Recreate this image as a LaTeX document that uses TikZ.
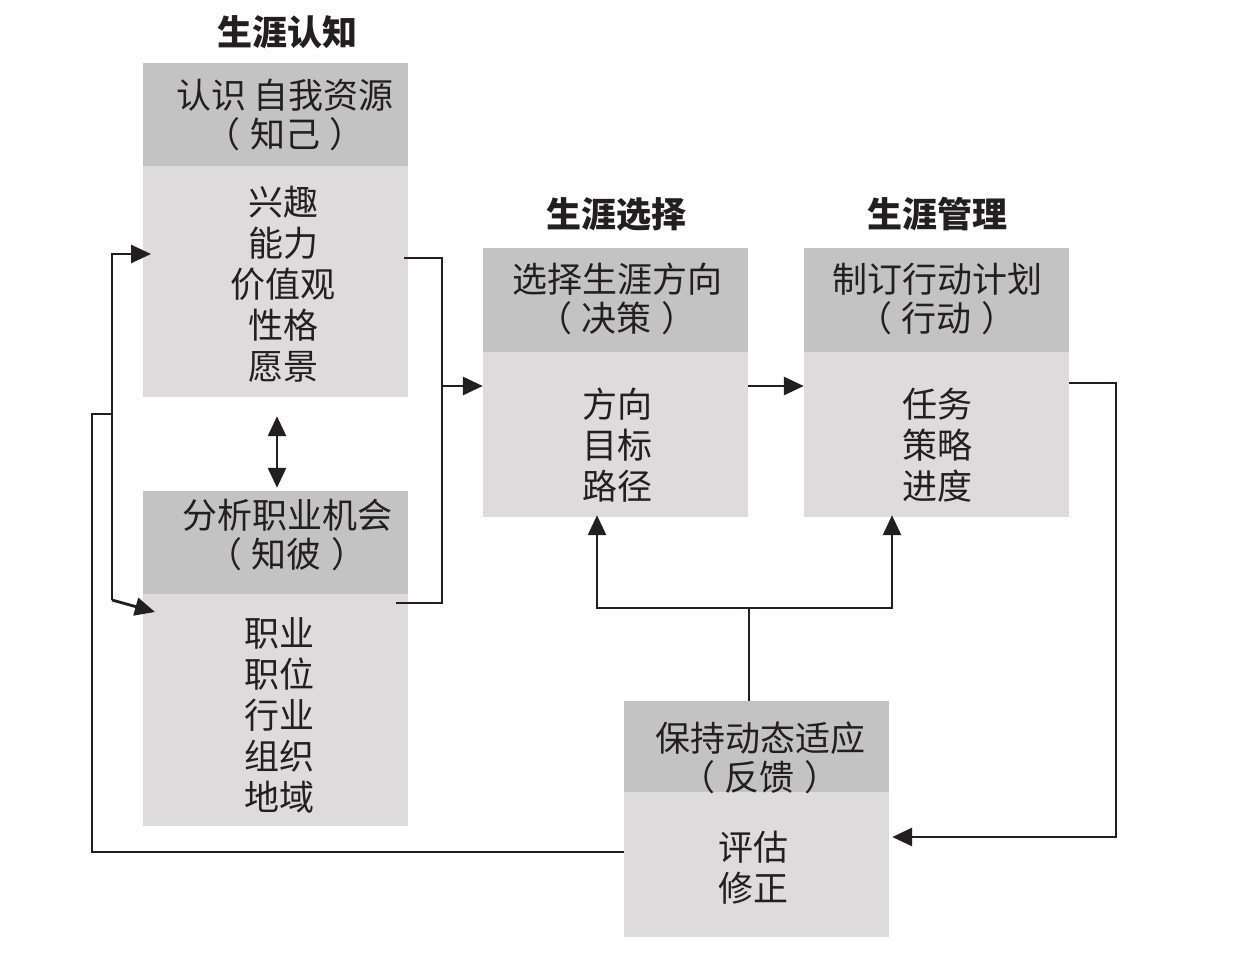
\documentclass[tikz,border=0pt]{standalone}
\usepackage{fontspec}
\setmainfont{Noto Sans CJK SC}
\usetikzlibrary{arrows.meta}
\definecolor{hdrgray}{RGB}{196,195,196}
\definecolor{bodgray}{RGB}{221,219,220}
\definecolor{ink}{RGB}{35,31,32}
\newcommand{\pgap}{\hspace{0.28em}}
\begin{document}
\begin{tikzpicture}[x=1pt,y=-1pt,
  hdrbox/.style={fill=hdrgray, draw=none, inner sep=0pt, minimum width=265pt},
  bodbox/.style={fill=bodgray, draw=none, inner sep=0pt, minimum width=265pt},
  lbl/.style={text=ink, align=center, inner sep=0pt, font=\fontsize{35}{39}\selectfont},
  lst/.style={text=ink, align=center, inner sep=0pt, font=\fontsize{35}{41}\selectfont},
  ttl/.style={text=ink, inner sep=0pt, font=\fontsize{35}{40}\selectfont\bfseries},
  conn/.style={draw=ink, line width=2.8pt},
  arr/.style={conn, -{Triangle[length=20pt,width=18pt]}},
  darr/.style={conn, {Triangle[length=20pt,width=18pt]}-{Triangle[length=20pt,width=18pt]}}]
\useasboundingbox (0,0) rectangle (1236,963);
\fill[white] (0,0) rectangle (1236,963);

% boxes
\node[hdrbox, minimum height=103pt] (h1) at (275.5,114.5) {};
\node[bodbox, minimum height=231pt] (b1) at (275.5,281.5) {};
\node[hdrbox, minimum height=103pt] (h2) at (275.5,542.5) {};
\node[bodbox, minimum height=232pt] (b2) at (275.5,710) {};
\node[hdrbox, minimum height=104pt] (h3) at (615.5,300) {};
\node[bodbox, minimum height=165pt] (b3) at (615.5,434.5) {};
\node[hdrbox, minimum height=104pt] (h4) at (936.5,300) {};
\node[bodbox, minimum height=165pt] (b4) at (936.5,434.5) {};
\node[hdrbox, minimum height=91pt] (h5) at (756.5,746.5) {};
\node[bodbox, minimum height=145pt] (b5) at (756.5,864.5) {};

% titles
\node[ttl] (T1) at (287,32) {生涯认知};
\node[ttl] (T3) at (616,214) {生涯选择};
\node[ttl] (T4) at (937,214) {生涯管理};

% texts
\node[lbl] (t1h) at (285,115) {认识 自我资源\\（\pgap 知己\pgap ）};
\node[lst] (t1b) at (283,284) {兴趣\\能力\\价值观\\性格\\愿景};
\node[lbl] (t2h) at (287,535) {分析职业机会\\（\pgap 知彼\pgap ）};
\node[lst] (t2b) at (279,715.5) {职业\\职位\\行业\\组织\\地域};
\node[lbl] (t3h) at (617,299) {选择生涯方向\\（\pgap 决策\pgap ）};
\node[lst] (t3b) at (617,445) {方向\\目标\\路径};
\node[lbl] (t4h) at (937,299) {制订行动计划\\（\pgap 行动\pgap ）};
\node[lst] (t4b) at (937,445) {任务\\策略\\进度};
\node[lbl] (t5h) at (760,758) {保持动态适应\\（\pgap 反馈\pgap ）};
\node[lst] (t5b) at (753,868) {评估\\修正};

% junction coordinates
\coordinate (cA) at (404,258);
\coordinate (cB) at (396,603);
\coordinate (jA) at (442,386);
\coordinate (jB) at (1116,383);
\coordinate (jC) at (1116,837);
\coordinate (jD) at (749,608);
\coordinate (jE) at (597,608);
\coordinate (jF) at (892,608);
\coordinate (jG) at (112,254);
\coordinate (jH) at (112,600);
\coordinate (jI) at (112,414);
\coordinate (jJ) at (92,414);
\coordinate (jK) at (92,852);
\coordinate (tipG) at (151,254);
\coordinate (tipH) at (155,612);
\coordinate (dx) at (277,0);

% connectors
\draw[conn] (cA) -| (jA) |- (cB);
\draw[arr] (jA) -- (b3.west |- jA);
\draw[arr] (b3.east |- jA) -- (b4.west |- jA);
\draw[arr] (b4.east |- jB) -- (jB) -- (jC) -- ([xshift=3pt]b5.east |- jC);
\draw[conn] (jD |- h5.north) -- (jD);
\draw[arr] (jD) -- (jE) -- ([yshift=2pt]jE |- b3.south);
\draw[arr] (jD) -- (jF) -- ([yshift=2pt]jF |- b4.south);
\draw[arr] (jH) -- (jG) -- (tipG);
\draw[arr] (jH) -- (tipH);
\draw[conn] (b5.west |- jK) -- (jK) -- (jJ) -- (jI);
\draw[darr, shorten <=19pt, shorten >=3pt] (b1.south -| dx) -- (h2.north -| dx);
\end{tikzpicture}
\end{document}
